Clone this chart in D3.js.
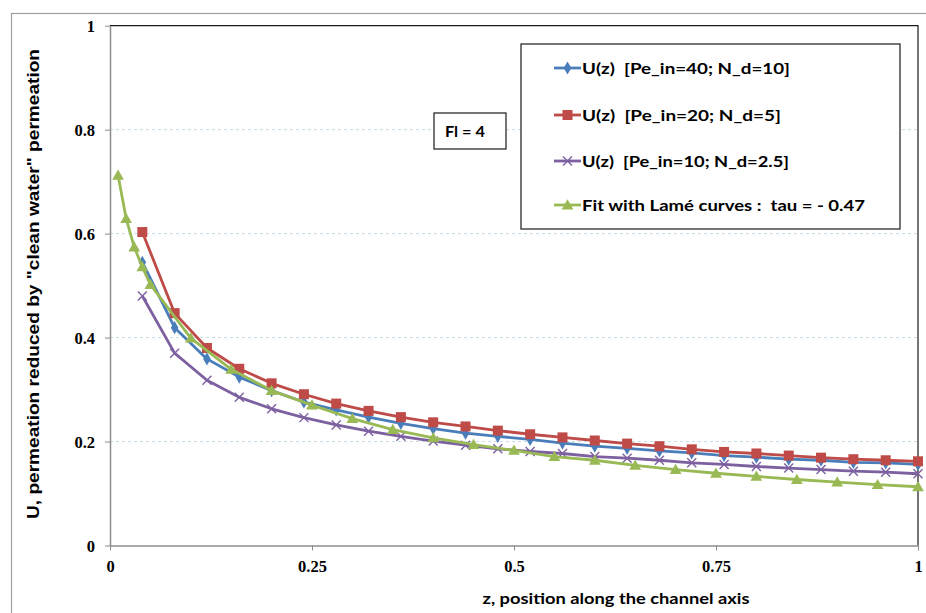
<!DOCTYPE html>
<html><head><meta charset="utf-8">
<script src="https://cdn.jsdelivr.net/npm/d3@7"></script>
<style>body{margin:0;background:#fff}svg{display:block}text{white-space:pre}</style>
</head><body>
<svg id="c" width="926" height="613"></svg>
<script>
// ---- data ----
const zMain = [0.04,0.08,0.12,0.16,0.20,0.24,0.28,0.32,0.36,0.40,0.44,0.48,0.52,0.56,0.60,0.64,0.68,0.72,0.76,0.80,0.84,0.88,0.92,0.96,1.00];
const uPe40 = [0.545,0.419,0.359,0.324,0.298,0.276,0.261,0.247,0.235,0.225,0.216,0.210,0.204,0.197,0.191,0.187,0.182,0.178,0.173,0.170,0.166,0.164,0.160,0.159,0.156];
const uPe20 = [0.603,0.447,0.380,0.340,0.312,0.291,0.273,0.259,0.247,0.237,0.229,0.221,0.214,0.208,0.202,0.196,0.191,0.185,0.180,0.177,0.173,0.169,0.166,0.164,0.162];
const uPe10 = [0.480,0.370,0.318,0.285,0.263,0.246,0.232,0.220,0.210,0.201,0.193,0.186,0.181,0.177,0.171,0.168,0.164,0.159,0.156,0.152,0.149,0.146,0.143,0.141,0.138];
const zFit  = [0.01,0.02,0.03,0.04,0.05,0.10,0.15,0.20,0.25,0.30,0.35,0.40,0.45,0.50,0.55,0.60,0.65,0.70,0.75,0.80,0.85,0.90,0.95,1.00];
const uFit  = [0.712,0.629,0.574,0.536,0.502,0.399,0.339,0.298,0.270,0.244,0.223,0.207,0.194,0.183,0.171,0.164,0.154,0.146,0.139,0.133,0.127,0.122,0.117,0.113];
const seriesNames = ["U(z)  [Pe_in=40; N_d=10]","U(z)  [Pe_in=20; N_d=5]","U(z)  [Pe_in=10; N_d=2.5]","Fit with Lamé curves :  tau = - 0.47"];
const xTicks = [0,0.25,0.5,0.75,1];
const xTickLabels = ["0","0.25","0.5","0.75","1"];
const yTicks = [0,0.2,0.4,0.6,0.8,1];
const yTickLabels = ["0","0.2","0.4","0.6","0.8","1"];
const xTitle = "z, position along the channel axis";
const yTitle = "U, permeation reduced by \"clean water\" permeation";
const noteText = "Fl = 4";

// ---- layout ----
const svg = d3.select("#c");
const L = 110, T = 25.7, R = 918, B = 545.5;
const x = d3.scaleLinear().domain([0,1]).range([L,R]);
const y = d3.scaleLinear().domain([0,1]).range([B,T]);
const colors = ["#4A7EBB","#BE4B48","#7D60A0","#98B954"];
const mk = ["diamond","square","cross","triangle"];

// outer chart border
svg.append("rect").attr("x",11.5).attr("y",13.5).attr("width",1000).attr("height",700)
  .attr("fill","#fff").attr("stroke","#a0a0a0").attr("stroke-width",1.2);

// grid
svg.append("g").selectAll("line").data([0.2,0.4,0.6,0.8]).join("line")
  .attr("x1",L).attr("x2",R).attr("y1",d=>y(d)).attr("y2",d=>y(d))
  .attr("stroke","#c6dde8").attr("stroke-width",1).attr("stroke-dasharray","3,3");

// plot border (top/right dark)
svg.append("path").attr("d",`M${L},${T}H${R}V${B}`).attr("fill","none").attr("stroke","#1a1a1a").attr("stroke-width",1.2);

// axes
const yAx = svg.append("g").attr("transform",`translate(${L},0)`)
  .call(d3.axisLeft(y).tickValues(yTicks).tickFormat((d,i)=>yTickLabels[i]).tickSize(5).tickSizeOuter(0));
const xAx = svg.append("g").attr("transform",`translate(0,${B})`)
  .call(d3.axisBottom(x).tickValues(xTicks).tickFormat((d,i)=>xTickLabels[i]).tickSize(5).tickSizeOuter(0));
[yAx,xAx].forEach(g=>{
  g.select(".domain").attr("stroke","#8c8c8c").attr("stroke-width",1.5);
  g.selectAll(".tick line").attr("stroke","#8c8c8c").attr("stroke-width",1);
  g.selectAll(".tick text").attr("font-family","'Liberation Serif','Times New Roman',serif")
    .attr("font-weight","bold").attr("font-size","16.5px").attr("fill","#000");
});
yAx.selectAll(".tick text").attr("x",-15).attr("dy","0.34em");
xAx.selectAll(".tick text").attr("y",15).attr("dy","0.71em");

// titles
svg.append("text").attr("x",616).attr("y",604).attr("text-anchor","middle")
  .attr("font-family","Lato,'Open Sans',sans-serif").attr("font-weight","bold").attr("font-size","16px")
  .attr("textLength",267).attr("lengthAdjust","spacingAndGlyphs").text(xTitle);
svg.append("text").attr("transform","translate(39,284) rotate(-90)").attr("text-anchor","middle")
  .attr("font-family","'Liberation Sans',Arial,sans-serif").attr("font-weight","bold").attr("font-size","16px")
  .attr("textLength",470).attr("lengthAdjust","spacingAndGlyphs").text(yTitle);

// marker drawing
function marker(g, type, color){
  if(type==="diamond"){
    g.append("path").attr("d",d3.symbol(d3.symbolDiamond, 50)()).attr("fill",color);
  } else if(type==="square"){
    g.append("rect").attr("x",-5).attr("y",-5).attr("width",10).attr("height",10).attr("fill",color);
  } else if(type==="cross"){
    g.append("path").attr("d","M-4.5,-4.5L4.5,4.5M-4.5,4.5L4.5,-4.5").attr("stroke",color).attr("stroke-width",1.4).attr("fill","none");
  } else {
    g.append("path").attr("d",d3.symbol(d3.symbolTriangle, 60)()).attr("transform","translate(0,1)").attr("fill",color);
  }
}

const sets = [
  {xs:zMain, ys:uPe40},
  {xs:zMain, ys:uPe20},
  {xs:zMain, ys:uPe10},
  {xs:zFit,  ys:uFit}
];
const line = d3.line().x(d=>x(d[0])).y(d=>y(d[1]));
[0,1,2,3].forEach(i=>{
  const s = sets[i];
  const pts = s.xs.map((v,k)=>[v,s.ys[k]]);
  svg.append("path").datum(pts).attr("d",line).attr("fill","none")
    .attr("stroke",colors[i]).attr("stroke-width",2.8).attr("stroke-linejoin","round");
  const g = svg.append("g");
  pts.forEach(p=>{
    const m = g.append("g").attr("transform",`translate(${x(p[0])},${y(p[1])})`);
    marker(m, mk[i], colors[i]);
  });
});

// legend
const lg = svg.append("g");
lg.append("rect").attr("x",521).attr("y",44).attr("width",379).attr("height",185)
  .attr("fill","#fff").attr("stroke","#1a1a1a").attr("stroke-width",1.2);
const rowY = [68,115,161,205];
const textW = [208,199,207,283];
seriesNames.forEach((n,i)=>{
  lg.append("line").attr("x1",554).attr("x2",581).attr("y1",rowY[i]).attr("y2",rowY[i])
    .attr("stroke",colors[i]).attr("stroke-width",2.8);
  const m = lg.append("g").attr("transform",`translate(567.5,${rowY[i]})`);
  marker(m, mk[i], colors[i]);
  lg.append("text").attr("x",582).attr("y",rowY[i]).attr("dy","0.36em")
    .attr("font-family","Lato,'Open Sans',sans-serif").attr("font-weight","bold").attr("font-size","16px")
    .attr("textLength",textW[i]).attr("lengthAdjust","spacingAndGlyphs").text(n);
});

// note box
svg.append("rect").attr("x",434).attr("y",113).attr("width",72).attr("height",36)
  .attr("fill","#fff").attr("stroke","#1a1a1a").attr("stroke-width",1.2);
svg.append("text").attr("x",445).attr("y",131).attr("dy","0.36em")
  .attr("font-family","Lato,'Open Sans',sans-serif").attr("font-weight","bold").attr("font-size","16px")
  .attr("textLength",40).attr("lengthAdjust","spacingAndGlyphs").text(noteText);
</script>
</body></html>
